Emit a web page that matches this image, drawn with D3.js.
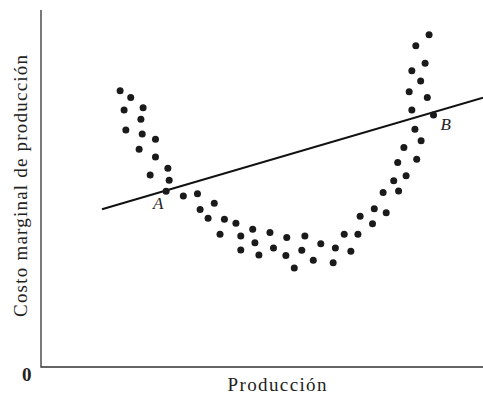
<!DOCTYPE html>
<html lang="es">
<head>
<meta charset="UTF-8">
<title>Costo marginal de producción</title>
<style>
  body { margin: 0; background: #fff; }
  svg { display: block; }
  .axis-label { font-family: 'Liberation Serif', 'Times New Roman', serif; fill: #222; }
  .pt-label { font-family: 'Liberation Serif', serif; font-style: italic; font-size: 17px; fill: #222; }
</style>
</head>
<body>
<svg id="chart" width="483" height="394"></svg>
<script src="https://d3js.org/d3.v7.min.js"></script>
<script>
  // observed marginal cost points (output, cost), 0-100 units
  const prodX = [17.9, 20.3, 18.8, 23.1, 22.6, 19.2, 22.9, 25.9, 22.2, 25.9,
                 28.7, 24.7, 29.0, 28.3, 32.2, 35.4, 36.0, 39.2, 37.8, 41.5,
                 44.1, 40.5, 45.2, 47.9, 51.8, 45.2, 48.4, 49.3, 52.6, 55.6,
                 55.4, 57.3, 59.7, 59.0, 61.6, 63.3, 66.1, 66.6, 68.6, 70.1,
                 71.7, 72.2, 75.0, 75.4, 78.1, 77.4, 80.9, 79.8, 82.6, 80.7,
                 85.0, 82.1, 86.0, 84.6, 88.8, 83.9, 87.4, 83.3, 85.9, 83.9,
                 86.9, 84.8, 87.8];
  const costY = [77.4, 75.5, 72.0, 72.6, 69.4, 66.4, 65.3, 63.8, 61.0, 58.8,
                 55.7, 53.8, 52.3, 49.2, 47.9, 48.5, 44.1, 45.9, 41.7, 41.4,
                 40.3, 37.2, 36.7, 38.6, 37.7, 32.8, 34.8, 31.4, 33.3, 36.3,
                 31.2, 27.7, 36.7, 32.7, 29.9, 34.5, 29.2, 33.3, 37.2, 32.4,
                 37.2, 42.2, 40.1, 44.3, 43.2, 48.9, 49.3, 52.2, 53.6, 57.3,
                 58.2, 61.5, 63.4, 66.6, 70.6, 72.0, 75.5, 77.1, 80.1, 83.0,
                 85.1, 90.0, 93.1];

  // straight line
  const lineX = [13.8, 100];
  const lineY = [44.2, 75.4];

  // labelled points
  const labelNames = ['A', 'B'];
  const labelX = [28.3, 88.8];
  const labelY = [49.2, 70.6];

  const svg = d3.select('#chart');
  const margin = { top: 10, right: 0, bottom: 27, left: 41 };
  const W = 483, H = 394;

  const x = d3.scaleLinear().domain([0, 100]).range([margin.left, W - margin.right]);
  const y = d3.scaleLinear().domain([0, 100]).range([H - margin.bottom, margin.top]);

  // axes (plain lines, no ticks)
  svg.append('path')
    .attr('d', `M${x(0)},${y(100)}V${y(0)}H${x(100)}`)
    .attr('fill', 'none')
    .attr('stroke', '#333')
    .attr('stroke-width', 1.3);

  // line
  const linePts = lineX.map((v, i) => [v, lineY[i]]);
  svg.append('path')
    .datum(linePts)
    .attr('d', d3.line().x(d => x(d[0])).y(d => y(d[1])))
    .attr('fill', 'none')
    .attr('stroke', '#111')
    .attr('stroke-width', 2);

  // dots
  svg.selectAll('circle.dot')
    .data(prodX.map((v, i) => [v, costY[i]]))
    .enter().append('circle')
    .attr('class', 'dot')
    .attr('cx', d => x(d[0]))
    .attr('cy', d => y(d[1]))
    .attr('r', 3.5)
    .attr('fill', '#1a1a1a');

  // A / B labels
  const offsets = [[-13, 18], [7, 15]];
  svg.selectAll('text.pt-label')
    .data(labelNames)
    .enter().append('text')
    .attr('class', 'pt-label')
    .attr('x', (d, i) => x(labelX[i]) + offsets[i][0])
    .attr('y', (d, i) => y(labelY[i]) + offsets[i][1])
    .text(d => d);

  // axis titles
  svg.append('text')
    .attr('class', 'axis-label')
    .attr('x', 22).attr('y', 381)
    .attr('font-size', 19)
    .attr('font-weight', 'bold')
    .text('0');

  svg.append('text')
    .attr('class', 'axis-label')
    .attr('x', 277).attr('y', 391)
    .attr('text-anchor', 'middle')
    .attr('font-size', 19)
    .attr('textLength', 99)
    .text('Producción');

  svg.append('text')
    .attr('class', 'axis-label')
    .attr('transform', 'translate(27,186) rotate(-90)')
    .attr('text-anchor', 'middle')
    .attr('font-size', 19)
    .attr('textLength', 262)
    .text('Costo marginal de producción');
</script>
</body>
</html>
